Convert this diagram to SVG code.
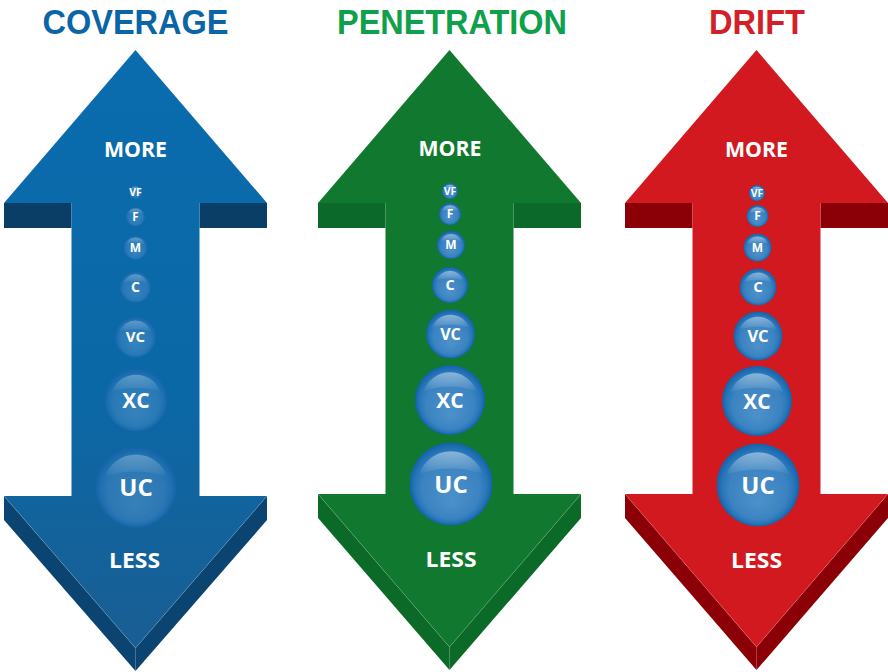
<svg xmlns="http://www.w3.org/2000/svg" xmlns:xlink="http://www.w3.org/1999/xlink" width="888" height="672" viewBox="0 0 888 672">
<defs>
<style>
.t{font-family:"Open Sans","Noto Sans","Liberation Sans",sans-serif;font-weight:700;text-anchor:middle}
.title{font-family:"Liberation Sans","Open Sans",sans-serif;font-weight:700;text-anchor:middle;font-size:35px}
.lbl{font-size:21px;fill:#fff}
.b{fill:#fff}
.edge{fill:none;stroke:#fff;stroke-opacity:0.18;stroke-width:0.7}
</style>
<linearGradient id="gBlue" gradientUnits="userSpaceOnUse" x1="0" y1="50" x2="0" y2="670">
<stop offset="0" stop-color="#0a6cae"/><stop offset="0.55" stop-color="#0b68a6"/><stop offset="1" stop-color="#1b5d92"/>
</linearGradient>
<radialGradient id="bub" cx="0.5" cy="0.5" r="0.5" fx="0.5" fy="0.72">
<stop offset="0" stop-color="#4c91ca"/><stop offset="0.7" stop-color="#3b83c1"/><stop offset="0.88" stop-color="#2675b9"/><stop offset="1" stop-color="#1362a8"/>
</radialGradient>
<linearGradient id="hl" x1="0" y1="0" x2="0" y2="1">
<stop offset="0" stop-color="#fff" stop-opacity="0.45"/><stop offset="1" stop-color="#fff" stop-opacity="0.02"/>
</linearGradient>
<symbol id="bubble" viewBox="-50 -50 100 100">
<circle r="50" fill="url(#bub)"/>
<path d="M-38,-12 A40,40 0 0 1 38,-12 A60,30 0 0 0 -38,-12Z" fill="url(#hl)"/>
</symbol>
</defs>

<g id="titles" class="title">
<text x="135.5" y="34" fill="#0a65a6" textLength="186" lengthAdjust="spacingAndGlyphs">COVERAGE</text>
<text x="452" y="34" fill="#0fa04b" textLength="230" lengthAdjust="spacingAndGlyphs">PENETRATION</text>
<text x="757" y="34" fill="#d21f28" textLength="96" lengthAdjust="spacingAndGlyphs">DRIFT</text>
</g>

<g id="arrow-coverage" transform="translate(135.5,0)">
<polygon points="0,50 131.5,203 -131.5,203" fill="url(#gBlue)"/>
<rect x="-131.5" y="203" width="67.5" height="25" fill="#0a3e66"/>
<rect x="64" y="203" width="67.5" height="25" fill="#0a3e66"/>
<rect x="-64" y="202" width="128" height="295" fill="url(#gBlue)"/>
<polygon points="-131.5,496 -131.5,520 0,671 0,648" fill="#0b4470"/>
<polygon points="131.5,496 131.5,520 0,671 0,648" fill="#0b4470"/>
<polygon points="-131.5,496 131.5,496 0,648" fill="url(#gBlue)"/>
<path class="edge" d="M-131.5,496 L0,648 L131.5,496"/>
<text class="t lbl" x="0" y="157" textLength="63" lengthAdjust="spacingAndGlyphs">MORE</text>
<text class="t lbl" x="-1" y="568" textLength="51" lengthAdjust="spacingAndGlyphs">LESS</text>
</g>

<g id="arrow-penetration" transform="translate(449.5,0)">
<polygon points="0,50 131.5,203 -131.5,203" fill="#11782f"/>
<rect x="-131.5" y="203" width="67.5" height="25" fill="#0b6a2a"/>
<rect x="64" y="203" width="67.5" height="25" fill="#0b6a2a"/>
<rect x="-64" y="202" width="128" height="293" fill="#11782f"/>
<polygon points="-131.5,494 -131.5,518 0,670 0,647" fill="#0c6a29"/>
<polygon points="131.5,494 131.5,518 0,670 0,647" fill="#0c6a29"/>
<polygon points="-131.5,494 131.5,494 0,647" fill="#11782f"/>
<path class="edge" d="M-131.5,494 L0,647 L131.5,494"/>
<text class="t lbl" x="0.5" y="156" textLength="63" lengthAdjust="spacingAndGlyphs">MORE</text>
<text class="t lbl" x="1.5" y="567" textLength="51" lengthAdjust="spacingAndGlyphs">LESS</text>
</g>

<g id="arrow-drift" transform="translate(756.5,0)">
<polygon points="0,50 131.5,203 -131.5,203" fill="#d31920"/>
<rect x="-131.5" y="203" width="67.5" height="25" fill="#8b0006"/>
<rect x="64" y="203" width="67.5" height="25" fill="#8b0006"/>
<rect x="-64" y="202" width="128" height="293" fill="#d31920"/>
<polygon points="-131.5,494 -131.5,518 0,670 0,647" fill="#8b0007"/>
<polygon points="131.5,494 131.5,518 0,670 0,647" fill="#8b0007"/>
<polygon points="-131.5,494 131.5,494 0,647" fill="#d31920"/>
<path class="edge" d="M-131.5,494 L0,647 L131.5,494"/>
<text class="t lbl" x="0" y="157" textLength="63" lengthAdjust="spacingAndGlyphs">MORE</text>
<text class="t lbl" x="0" y="568" textLength="51" lengthAdjust="spacingAndGlyphs">LESS</text>
</g>

<g id="bubbles-coverage" opacity="0.65">
<use href="#bubble" x="128.5" y="185" width="14" height="14"/>
<use href="#bubble" x="125.5" y="206.5" width="20" height="20"/>
<use href="#bubble" x="123" y="235" width="25" height="25"/>
<use href="#bubble" x="119.5" y="271" width="32" height="32"/>
<use href="#bubble" x="114.5" y="316" width="42" height="42"/>
<use href="#bubble" x="104" y="368" width="64" height="64"/>
<use href="#bubble" x="95" y="446" width="82" height="82"/>
</g>
<g id="labels-coverage" class="t b">
<g id="cov-vf"><text x="135.5" y="195.7" font-size="10.5">VF</text></g>
<g id="cov-f"><text x="135.5" y="220.6" font-size="11.5">F</text></g>
<g id="cov-m"><text x="135.5" y="251.8" font-size="12">M</text></g>
<g id="cov-c"><text x="135.5" y="292" font-size="14">C</text></g>
<g id="cov-vc"><text x="135.5" y="342.3" font-size="15">VC</text></g>
<g id="cov-xc"><text x="136" y="407.5" font-size="21">XC</text></g>
<g id="cov-uc"><text x="136" y="495.6" font-size="24">UC</text></g>
</g>

<g id="bubbles-penetration">
<g id="pen-vf"><use href="#bubble" x="442" y="183" width="16" height="16"/><text class="t b" x="450" y="194.8" font-size="10.5">VF</text></g>
<g id="pen-f"><use href="#bubble" x="439" y="203" width="22" height="22"/><text class="t b" x="450" y="218.2" font-size="12">F</text></g>
<g id="pen-m"><use href="#bubble" x="437" y="231" width="28" height="28"/><text class="t b" x="451" y="249.3" font-size="12">M</text></g>
<g id="pen-c"><use href="#bubble" x="432" y="267" width="36" height="36"/><text class="t b" x="450" y="290.2" font-size="14.5">C</text></g>
<g id="pen-vc"><use href="#bubble" x="426" y="309.5" width="49" height="49"/><text class="t b" x="450.5" y="339.7" font-size="16">VC</text></g>
<g id="pen-xc"><use href="#bubble" x="415" y="365" width="70" height="70"/><text class="t b" x="450" y="407.5" font-size="21">XC</text></g>
<g id="pen-uc"><use href="#bubble" x="409.5" y="442.5" width="83" height="83"/><text class="t b" x="451" y="492.6" font-size="24">UC</text></g>
</g>

<g id="bubbles-drift">
<g id="dri-vf"><use href="#bubble" x="749" y="185" width="16" height="16"/><text class="t b" x="757" y="196.8" font-size="10.5">VF</text></g>
<g id="dri-f"><use href="#bubble" x="746.5" y="205" width="22" height="22"/><text class="t b" x="757.5" y="220.2" font-size="12">F</text></g>
<g id="dri-m"><use href="#bubble" x="743.5" y="233.5" width="28" height="28"/><text class="t b" x="757.5" y="251.8" font-size="12">M</text></g>
<g id="dri-c"><use href="#bubble" x="739.5" y="268.5" width="37" height="37"/><text class="t b" x="758" y="292.4" font-size="15">C</text></g>
<g id="dri-vc"><use href="#bubble" x="733.5" y="311.5" width="49" height="49"/><text class="t b" x="758" y="341.8" font-size="16.5">VC</text></g>
<g id="dri-xc"><use href="#bubble" x="722" y="366" width="70" height="70"/><text class="t b" x="757" y="408.5" font-size="21">XC</text></g>
<g id="dri-uc"><use href="#bubble" x="716.5" y="443.5" width="83" height="83"/><text class="t b" x="758" y="493.6" font-size="24">UC</text></g>
</g>
</svg>
